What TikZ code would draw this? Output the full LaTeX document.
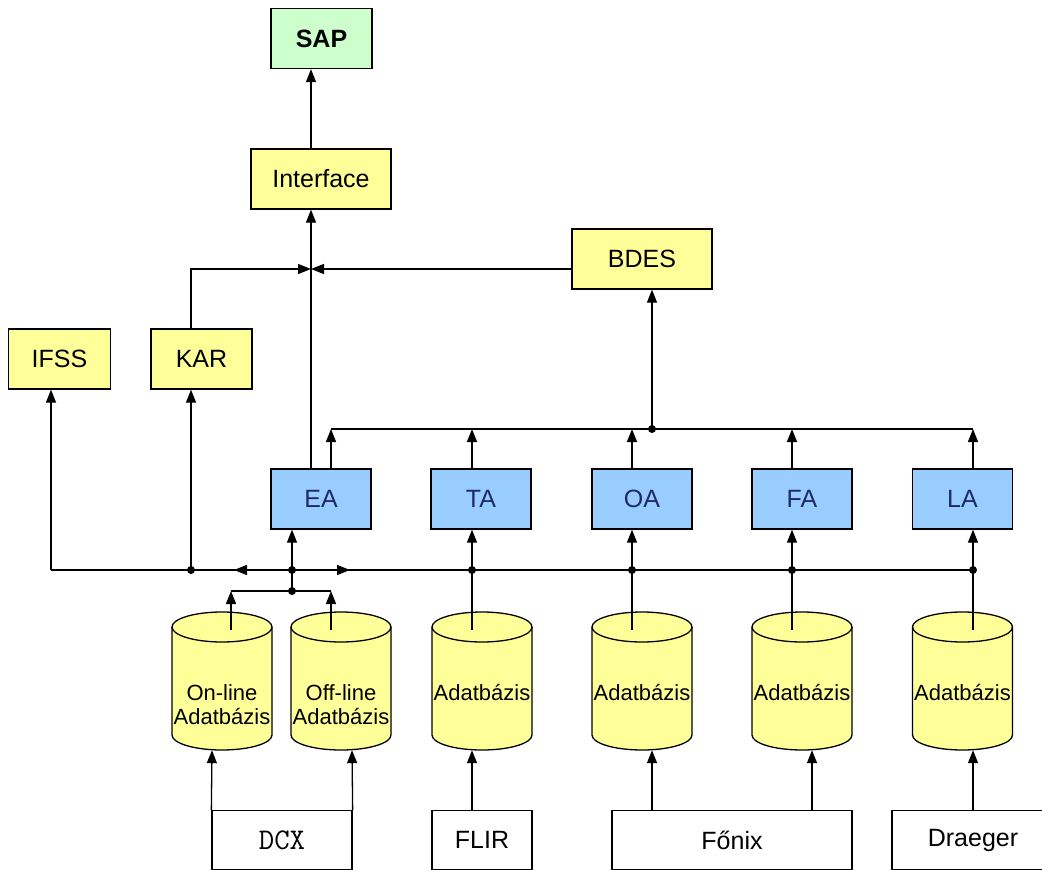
\documentclass[tikz,border=0pt]{standalone}
\usepackage{fontspec}
\setmainfont{Liberation Sans}
\usetikzlibrary{arrows.meta}
\definecolor{ylw}{HTML}{FFFF99}
\definecolor{blu}{HTML}{99CCFF}
\definecolor{grn}{HTML}{CCFFCC}
\definecolor{navy}{HTML}{1F2A66}
\newcommand\dbcyl[5]{%
  \fill[ylw] (#2-50,627) -- (#2-50,735) arc[start angle=180,end angle=360,x radius=50pt,y radius=15pt] -- (#2+50,627) arc[start angle=0,end angle=180,x radius=50pt,y radius=15pt] -- cycle;
  \draw[ln] (#2-50,627) -- (#2-50,735) arc[start angle=180,end angle=360,x radius=50pt,y radius=15pt] -- (#2+50,627);
  \draw[ln] (#2,627) ellipse[x radius=50pt,y radius=15pt];
  \node[minimum width=100pt,minimum height=138pt,inner sep=0pt] (#1) at (#2,681) {};
  \node[cyltext] (#1t) at (#2,#4) {#3};
}
\begin{document}
\begin{tikzpicture}[x=1pt,y=-1pt,
  ln/.style={line width=1.3pt},
  arr/.style={line width=1.3pt,-{Triangle[length=13pt,width=10pt]}},
  box/.style={draw=black,line width=1.3pt,minimum width=#1,minimum height=60pt,inner sep=0pt,font=\fontsize{25}{30}\selectfont},
  box/.default=100pt,
  abox/.style={box=100pt,fill=blu,text=navy},
  cyltext/.style={inner sep=0pt,align=center,font=\fontsize{22}{24}\selectfont},
  dot/.style={circle,fill=black,inner sep=0pt,minimum size=8pt}]
\useasboundingbox (0,0) rectangle (1042,870);

% top boxes
\node[box=101pt,fill=grn,font=\fontsize{25}{30}\selectfont\bfseries] (sap) at (321.5,38.5) {SAP};
\node[box=140pt,fill=ylw] (ifc) at (321,179) {Interface};
\node[box=140pt,fill=ylw] (bdes) at (642,259) {BDES};
\node[box=102pt,fill=ylw] (ifss) at (59.5,359) {IFSS};
\node[box=101pt,fill=ylw] (kar) at (201.5,359) {KAR};

% A boxes
\node[abox] (ea) at (321,499) {EA};
\node[abox] (ta) at (481,499) {TA};
\node[abox] (oa) at (642,499) {OA};
\node[abox] (fa) at (802,499) {FA};
\node[abox] (la) at (962.5,499) {LA};

% cylinders
\dbcyl{cyOn}{222}{On-line\\Adatbázis}{705}{}
\dbcyl{cyOff}{341}{Off-line\\Adatbázis}{705}{}
\dbcyl{cyT}{482}{Adatbázis}{693}{}
\dbcyl{cyO}{642}{Adatbázis}{693}{}
\dbcyl{cyF}{802}{Adatbázis}{693}{}
\dbcyl{cyL}{962.5}{Adatbázis}{693}{}

% sources
\node[box=140pt,minimum height=59pt,font=\ttfamily\fontsize{30}{32}\selectfont] (dcx) at (282,840) {DCX};
\node[box=100pt,minimum height=59pt] (flir) at (482,840) {FLIR};
\node[box=240pt,minimum height=59pt] (fonix) at (732,840) {Főnix};
\node[box=162pt,minimum height=59pt] (drae) at (973,840) {Draeger};

% junction coordinates
\coordinate (jn) at (311,269);
\coordinate (tbL) at (331,429);
\coordinate (tTA) at (472,429);
\coordinate (tOA) at (632,429);
\coordinate (tb) at (652,429);
\coordinate (tFA) at (792,429);
\coordinate (tbR) at (973,429);
\coordinate (bbL) at (51,570);
\coordinate (bKAR) at (191,570);
\coordinate (bAL) at (234,570);
\coordinate (bj) at (292,570);
\coordinate (bAR) at (350,570);
\coordinate (bTA) at (472,570);
\coordinate (bOA) at (632,570);
\coordinate (bFA) at (792,570);
\coordinate (bLA) at (973,570);
\coordinate (lj) at (292,591);
\coordinate (ljL) at (231,591);
\coordinate (ljR) at (331,591);

% upper connectors
\draw[arr] ([xshift=-10pt]ifc.north) -- ([xshift=-10.5pt]sap.south);
\draw[arr] ([xshift=-10pt]ea.north) -- ([xshift=-10pt]ifc.south);
\draw[arr] ([xshift=-10.5pt]kar.north) |- (jn);
\draw[arr] ([yshift=-10pt]bdes.west) -- (jn);
\draw[arr] (tb) -- ([xshift=10pt]bdes.south);

% top bus
\draw[ln] (tbL) -- (tbR);
\draw[arr] ([xshift=10pt]ea.north) -- (tbL);
\draw[arr] ([xshift=-9pt]ta.north) -- (tTA);
\draw[arr] ([xshift=-10pt]oa.north) -- (tOA);
\draw[arr] ([xshift=-10pt]fa.north) -- (tFA);
\draw[arr] ([xshift=10.5pt]la.north) -- (tbR);

% bottom bus
\draw[ln] (bbL) -- (bLA);
\draw[arr] (bbL) -- ([xshift=-8.5pt]ifss.south);
\draw[arr] (bKAR) -- ([xshift=-10.5pt]kar.south);
\draw[arr] (bj) -- (bAL);
\draw[arr] (bj) -- (bAR);
\draw[arr] (lj) -- ([xshift=-29pt]ea.south);
\draw[ln] (ljL) -- (ljR);
\draw[arr] ([xshift=9pt,yshift=-18pt]cyOn.north) -- (ljL);
\draw[arr] ([xshift=-10pt,yshift=-18pt]cyOff.north) -- (ljR);
\draw[arr] ([xshift=-10pt,yshift=-18pt]cyT.north) -- ([xshift=-9pt]ta.south);
\draw[arr] ([xshift=-10pt,yshift=-18pt]cyO.north) -- ([xshift=-10pt]oa.south);
\draw[arr] ([xshift=-10pt,yshift=-18pt]cyF.north) -- ([xshift=-10pt]fa.south);
\draw[arr] ([xshift=10.5pt,yshift=-18pt]cyL.north) -- ([xshift=10.5pt]la.south);

% dots
\node[dot] (d1) at (tb) {};
\node[dot] (d2) at (bKAR) {};
\node[dot] (d3) at (bj) {};
\node[dot] (d4) at (lj) {};
\node[dot] (d5) at (bTA) {};
\node[dot] (d6) at (bOA) {};
\node[dot] (d7) at (bFA) {};
\node[dot] (d8) at (bLA) {};

% source connectors
\draw[arr] (dcx.north west) -- ([xshift=-10pt]cyOn.south);
\draw[arr] (dcx.north east) -- ([xshift=11pt]cyOff.south);
\draw[arr] ([xshift=-10pt]flir.north) -- ([xshift=-10pt]cyT.south);
\draw[arr] ([xshift=-80pt]fonix.north) -- ([xshift=10pt]cyO.south);
\draw[arr] ([xshift=80pt]fonix.north) -- ([xshift=10pt]cyF.south);
\draw[arr] (drae.north) -- ([xshift=10.5pt]cyL.south);
\end{tikzpicture}
\end{document}
